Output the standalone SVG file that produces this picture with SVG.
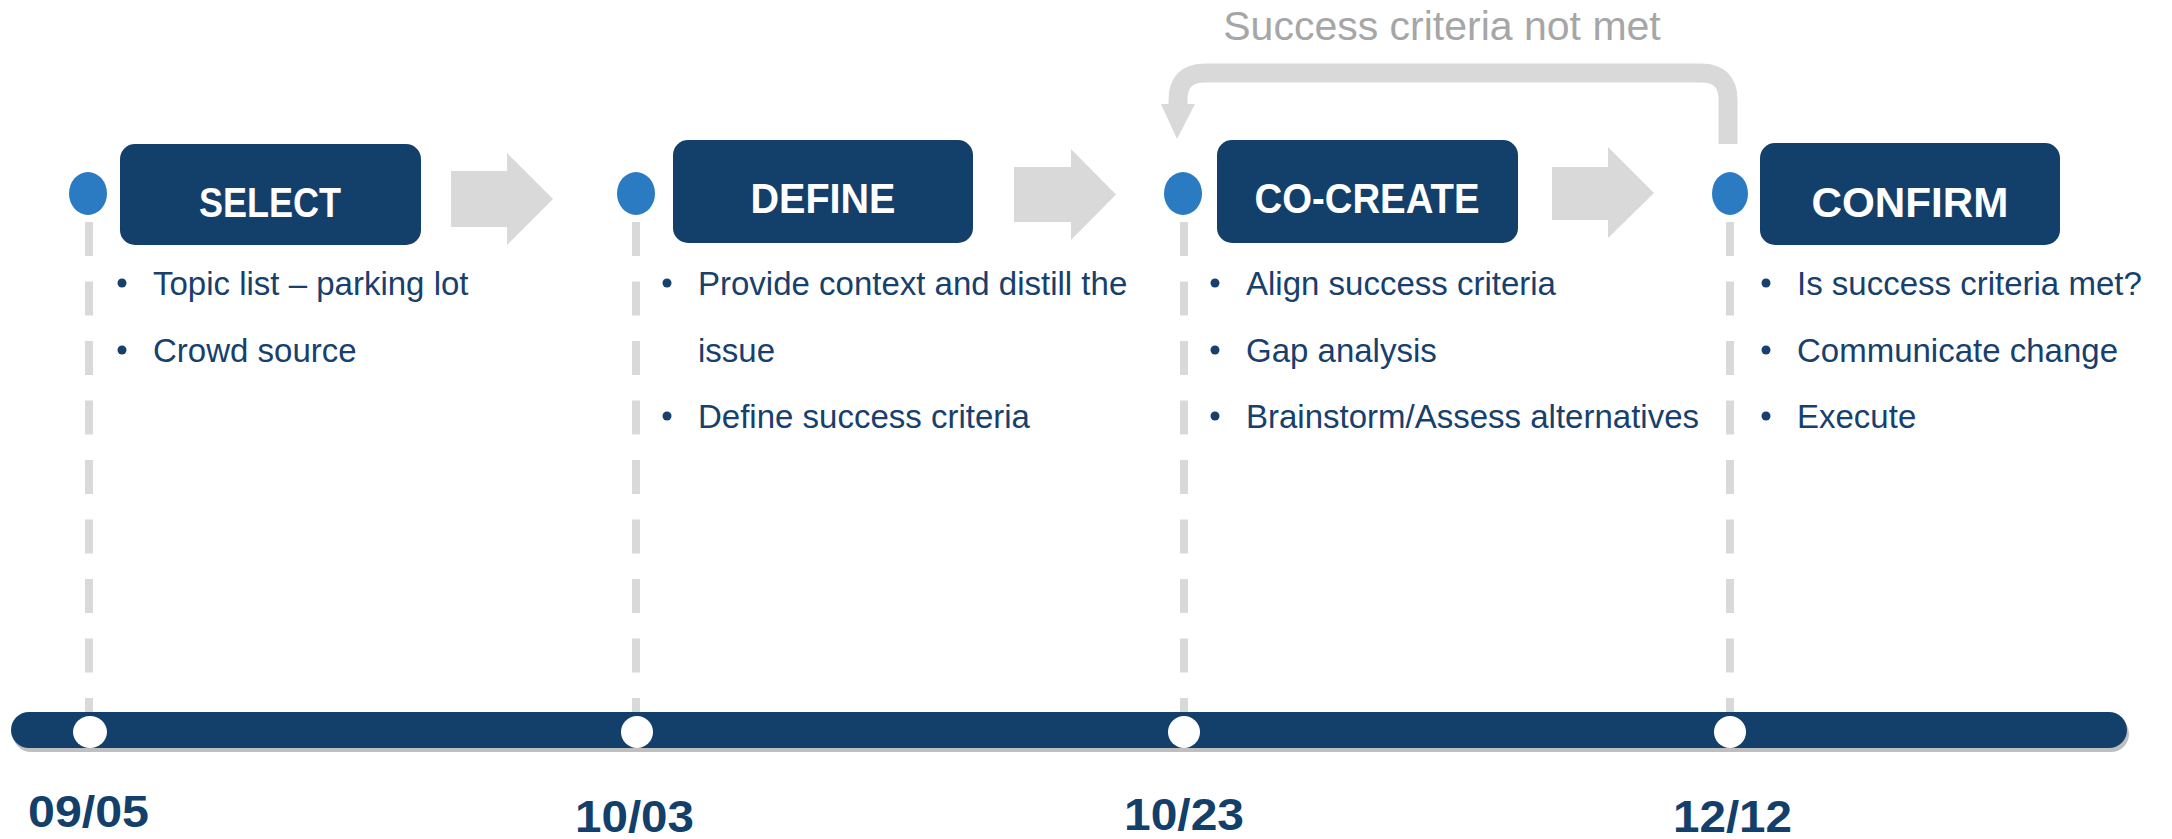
<svg xmlns="http://www.w3.org/2000/svg" width="2172" height="839" viewBox="0 0 2172 839">
<style>
.box{fill:#12406A}
.title{font-family:"Liberation Sans",Arial,sans-serif;font-weight:bold;font-size:43px;fill:#FFFFFF;text-anchor:middle}
.item{font-family:"Liberation Sans",Arial,sans-serif;font-size:33px;fill:#17406D}
.date{font-family:"Liberation Sans",Arial,sans-serif;font-weight:bold;font-size:44px;fill:#12406A}
.bul{fill:#17406D}
.dot{fill:#2A7BC2}
.wdot{fill:#FFFFFF}
.dash{stroke:#D9D9D9;stroke-width:8;stroke-dasharray:34 25.5;fill:none}
.garrow{fill:#D9D9D9}
</style>
<rect width="2172" height="839" fill="#FFFFFF"/>
<g id="guides">
<line class="dash" x1="89" y1="222" x2="89" y2="712"/>
<line class="dash" x1="636" y1="222" x2="636" y2="712"/>
<line class="dash" x1="1184" y1="222" x2="1184" y2="712"/>
<line class="dash" x1="1730" y1="222" x2="1730" y2="712"/>
</g>
<g id="timeline">
<rect x="13" y="716" width="2116" height="36" rx="18" fill="#BFBFBF"/>
<rect x="11" y="712" width="2116" height="36" rx="18" fill="#12406A"/>
<ellipse class="wdot" cx="90" cy="732" rx="17" ry="16"/>
<ellipse class="wdot" cx="637" cy="732" rx="16" ry="16"/>
<ellipse class="wdot" cx="1184" cy="732" rx="16" ry="16"/>
<ellipse class="wdot" cx="1730" cy="732" rx="16" ry="16"/>
<text class="date" x="28" y="827" textLength="121" lengthAdjust="spacingAndGlyphs">09/05</text>
<text class="date" x="575" y="832" textLength="119" lengthAdjust="spacingAndGlyphs">10/03</text>
<text class="date" x="1124" y="830" textLength="120" lengthAdjust="spacingAndGlyphs">10/23</text>
<text class="date" x="1673" y="832" textLength="119" lengthAdjust="spacingAndGlyphs">12/12</text>
</g>
<g id="connectors">
<polygon class="garrow" points="451,171 507,171 507,153 553,199 507,245 507,227 451,227"/>
<polygon class="garrow" points="1014,167 1071,167 1071,149 1116,194.5 1071,240 1071,222 1014,222"/>
<polygon class="garrow" points="1552,167 1608,167 1608,147 1654,193 1608,238 1608,220 1552,220"/>
<path d="M1728,144 V100 Q1728,73 1701,73 H1205 Q1178,73 1178,100 V106" stroke="#D9D9D9" stroke-width="19" fill="none"/>
<polygon class="garrow" points="1161,104 1195,104 1177,139"/>
<text x="1442" y="40" font-family="Liberation Sans, Arial, sans-serif" font-size="41" fill="#A6A6A6" text-anchor="middle">Success criteria not met</text>
</g>
<g id="select">
<ellipse class="dot" cx="88" cy="193.5" rx="19" ry="21.5"/>
<rect class="box" x="120" y="144" width="301" height="101" rx="15"/>
<text class="title" x="270" y="217" textLength="142" lengthAdjust="spacingAndGlyphs">SELECT</text>
<circle class="bul" cx="122" cy="283" r="4.5"/>
<text class="item" x="153" y="295">Topic list – parking lot</text>
<circle class="bul" cx="122" cy="350" r="4.5"/>
<text class="item" x="153" y="362">Crowd source</text>
</g>
<g id="define">
<ellipse class="dot" cx="636" cy="193.5" rx="19" ry="21.5"/>
<rect class="box" x="673" y="140" width="300" height="103" rx="15"/>
<text class="title" x="823" y="213" textLength="145" lengthAdjust="spacingAndGlyphs">DEFINE</text>
<circle class="bul" cx="667" cy="283" r="4.5"/>
<text class="item" x="698" y="295">Provide context and distill the</text>
<text class="item" x="698" y="362">issue</text>
<circle class="bul" cx="667" cy="416" r="4.5"/>
<text class="item" x="698" y="428">Define success criteria</text>
</g>
<g id="cocreate">
<ellipse class="dot" cx="1183" cy="193.5" rx="19" ry="21.5"/>
<rect class="box" x="1217" y="140" width="301" height="103" rx="15"/>
<text class="title" x="1367" y="213" textLength="225" lengthAdjust="spacingAndGlyphs">CO-CREATE</text>
<circle class="bul" cx="1215" cy="283" r="4.5"/>
<text class="item" x="1246" y="295">Align success criteria</text>
<circle class="bul" cx="1215" cy="350" r="4.5"/>
<text class="item" x="1246" y="362">Gap analysis</text>
<circle class="bul" cx="1215" cy="416" r="4.5"/>
<text class="item" x="1246" y="428">Brainstorm/Assess alternatives</text>
</g>
<g id="confirm">
<ellipse class="dot" cx="1730" cy="193.5" rx="18" ry="21.5"/>
<rect class="box" x="1760" y="143" width="300" height="102" rx="15"/>
<text class="title" x="1910" y="217" textLength="197" lengthAdjust="spacingAndGlyphs">CONFIRM</text>
<circle class="bul" cx="1766" cy="283" r="4.5"/>
<text class="item" x="1797" y="295">Is success criteria met?</text>
<circle class="bul" cx="1766" cy="350" r="4.5"/>
<text class="item" x="1797" y="362">Communicate change</text>
<circle class="bul" cx="1766" cy="416" r="4.5"/>
<text class="item" x="1797" y="428">Execute</text>
</g>
</svg>
